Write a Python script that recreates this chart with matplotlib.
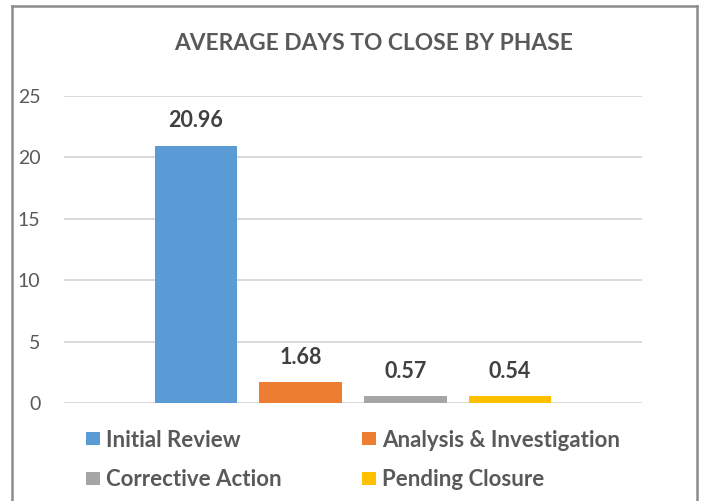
import matplotlib
matplotlib.use("Agg")
import matplotlib.pyplot as plt
from matplotlib.patches import Patch
from matplotlib.lines import Line2D

# data
phases = ["Initial Review", "Analysis & Investigation", "Corrective Action", "Pending Closure"]
avg_days = [20.96, 1.68, 0.57, 0.54]
colors = ["#5B9BD5", "#ED7D31", "#A5A5A5", "#FFC000"]
yticks = [0, 5, 10, 15, 20, 25]

W, H = 701, 501
plt.rcParams['font.family'] = ['Lato', 'DejaVu Sans']

fig = plt.figure(figsize=(W / 100, H / 100), dpi=100)
fig.patch.set_facecolor("white")

# plot area in pixel coords
left, right, top, bottom = 64, 642, 96, 403
ax = fig.add_axes([left / W, 1 - bottom / H, (right - left) / W, (bottom - top) / H])

x = list(range(len(phases)))
bars = ax.bar(x, avg_days, width=0.79, color=colors, zorder=3)
for xi, v in zip(x, avg_days):
    ax.annotate(f"{v:.2f}", (xi, v), xytext=(0, 18), textcoords="offset points",
                ha="center", va="center", fontsize=15.5, fontweight="bold", color="#404040")

ax.set_xlim(-1.26, 4.26)
ax.set_ylim(0, 25)
ax.set_yticks(yticks)
ax.set_xticks([])
ax.grid(axis="y", color="#D9D9D9", linewidth=1.4, zorder=0)
for s in ax.spines.values():
    s.set_visible(False)
ax.tick_params(axis="y", length=0, pad=17, labelsize=14, labelcolor="#595959")

fig.text(374 / W, 1 - 44 / H, "AVERAGE DAYS TO CLOSE BY PHASE", ha="center", va="center",
         fontsize=16.4, fontweight="bold", color="#595959")

# legend, column-major order
order = [0, 2, 1, 3]
handles = [Patch(facecolor=colors[i], edgecolor="none") for i in order]
labels = [phases[i] for i in order]
fig.legend(handles, labels, ncol=2, loc="center left", bbox_to_anchor=(86 / W, 1 - 460 / H),
           frameon=False, borderpad=0, borderaxespad=0,
           handlelength=0.63, handleheight=0.55, handletextpad=0.27,
           columnspacing=3.62, labelspacing=0.85,
           prop={"size": 16, "weight": "bold"}, labelcolor="#595959")

# chart border (bottom edge cropped off)
bc = "#8C8C8C"
fig.add_artist(Line2D([12 / W, 12 / W], [0, 1 - 6 / H], color=bc, lw=1.8, transform=fig.transFigure))
fig.add_artist(Line2D([12 / W, 697 / W], [1 - 6 / H, 1 - 6 / H], color=bc, lw=1.8, transform=fig.transFigure))
fig.add_artist(Line2D([697 / W, 697 / W], [0, 1 - 6 / H], color=bc, lw=1.8, transform=fig.transFigure))

fig.savefig("out.png", dpi=100)
